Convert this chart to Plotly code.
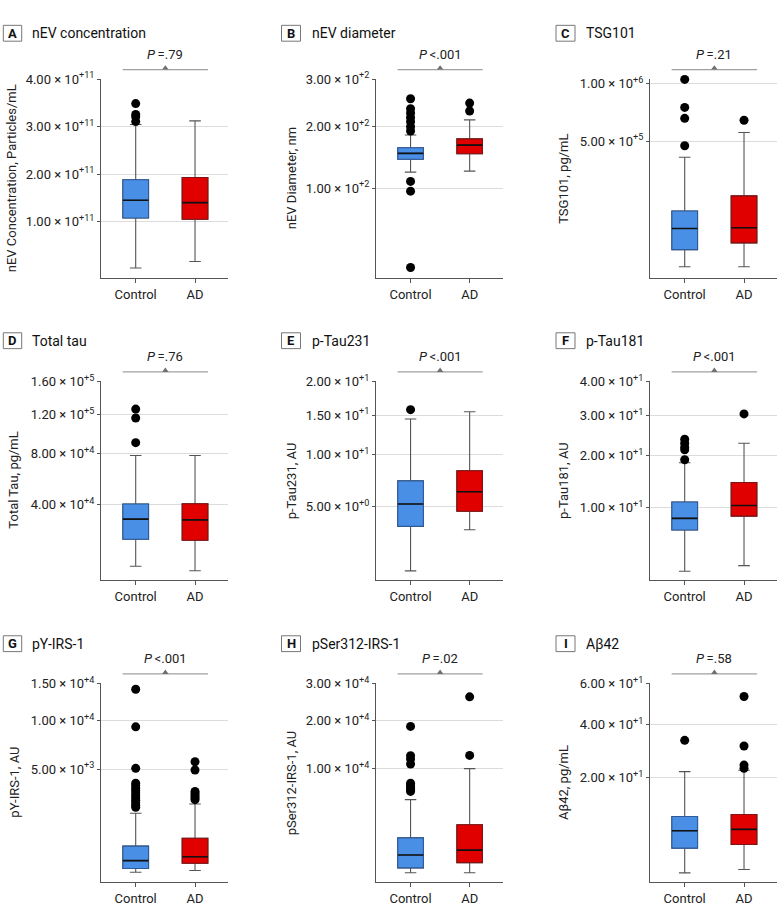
import math
import plotly.graph_objects as go

# ---------------- data ----------------
LETTERS = ["A", "B", "C", "D", "E", "F", "G", "H", "I"]
TITLES = ["nEV concentration", "nEV diameter", "TSG101", "Total tau", "p-Tau231",
          "p-Tau181", "pY-IRS-1", "pSer312-IRS-1", "Aβ42"]
YTITLES = ["nEV Concentration, Particles/mL", "nEV Diameter, nm", "TSG101, pg/mL",
           "Total Tau, pg/mL", "p-Tau231, AU", "p-Tau181, AU", "pY-IRS-1, AU",
           "pSer312-IRS-1, AU", "Aβ42, pg/mL"]
PVALUES = ["=.79", "<.001", "=.21", "=.76", "<.001", "<.001", "<.001", "=.02", "=.58"]
GROUPS = ["Control", "AD"]
SCALES = ["linear", "sqrt", "sqrt", "sqrt", "sqrt", "sqrt", "sqrt", "sqrt", "sqrt"]
TICKS = [[1e11, 2e11, 3e11, 4e11], [1e2, 2e2, 3e2], [5e5, 1e6],
         [4e4, 8e4, 1.2e5, 1.6e5], [5.0, 10.0, 15.0, 20.0], [10.0, 20.0, 30.0, 40.0],
         [5e3, 1e4, 1.5e4], [1e4, 2e4, 3e4], [20.0, 40.0, 60.0]]
YMIN = [-0.19e11, 15.7, 59.0, 5976.0, 0.85, 1.80, 6.8, 5.3, 0.69]

CTRL_LO = [0.021e11, 122.8, 4270, 9960, 1.18, 2.44, 73.2, 105, 1.32]
CTRL_Q1 = [1.076e11, 142.8, 23290, 20650, 3.54, 6.76, 115.6, 210, 4.05]
CTRL_MED = [1.451e11, 152.4, 68230, 31100, 5.21, 8.35, 241, 654, 6.87]
CTRL_Q3 = [1.882e11, 161.8, 122500, 40400, 7.27, 10.91, 590, 1627, 9.71]
CTRL_HI = [3.05e11, 184.4, 390400, 78300, 14.48, 18.39, 1955, 5373, 21.89]

AD_LO = [0.16e11, 124.3, 4270, 8520, 3.32, 2.90, 91, 105, 1.60]
AD_Q1 = [1.05e11, 151.8, 35010, 20200, 4.64, 8.69, 194, 362, 4.57]
AD_MED = [1.40e11, 166.4, 69960, 30700, 6.26, 10.32, 321, 890, 7.11]
AD_Q3 = [1.93e11, 177.4, 182700, 40600, 8.29, 14.38, 846, 2673, 10.14]
AD_HI = [3.125e11, 213.2, 564800, 78300, 15.48, 22.83, 2479, 10000, 22.33]

CTRL_OUT = [
    [3.49e11, 3.26e11, 3.21e11, 3.11e11],
    [256.7, 235.6, 227.0, 217.9, 209.4, 199.9, 191.8, 109.4, 96.1, 21.8],
    [1046600, 774200, 678800, 468000],
    [126300, 116200, 90500],
    [15.77],
    [23.79, 22.83, 21.89, 21.27, 19.04],
    [14190, 9290, 5085, 3886, 3700, 3522, 3350, 3177, 3000, 2849, 2700, 2539, 2400, 2285],
    [18600, 12340, 11710, 10810, 7657, 7300, 7024, 6750, 6464],
    [33.3],
]
AD_OUT = [
    [],
    [247.4, 231.0],
    [662800],
    [],
    [],
    [30.42],
    [5669, 4944, 3290, 3150, 3000, 2870, 2744],
    [26210, 12410],
    [53.3, 31.08, 24.1, 22.98],
]

# ---------------- styling / layout ----------------
W, H = 780, 915
FONT = "Roboto, Arial, sans-serif"
FILLS = ["#4A8FE6", "#E00000"]
EDGES = ["#2E5A96", "#7E1414"]
WHISKER = "#555555"
COL_X = [(101, 228), (376, 502.5), (650, 777)]
ROW_Y = [(70.7, 271.7), (376, 576.7), (681, 881.7)]
TITLE_Y = [24.5, 335, 641]
LBOX_X = [(3.3, 21.7), (281.5, 300.5), (556, 575)]
TEXT_X = [30, 309.5, 583.5]
YT_X = [[11.7, 291.7, 563.3], [14.0, 291.7, 563.3], [15.0, 291.7, 563.3]]
XRANGE = [-0.585, 1.556]
BOXW = 0.433


def px(x):
    return x / W


def py(y):
    return 1 - y / H


def tf(v, scale):
    return math.sqrt(v) if scale == "sqrt" else v


def label(v):
    e = int(math.floor(math.log10(v) + 1e-9))
    m = v / 10 ** e
    return f"{m:.2f} × 10<sup>+{e}</sup>"


fig = go.Figure()
shapes, annots = [], []
layout = {}

for i in range(9):
    r, c = divmod(i, 3)
    n = i + 1
    xa = "x" if n == 1 else f"x{n}"
    ya = "y" if n == 1 else f"y{n}"
    sc = SCALES[i]

    groups = [
        (GROUPS[0], 0, CTRL_LO, CTRL_Q1, CTRL_MED, CTRL_Q3, CTRL_HI),
        (GROUPS[1], 1, AD_LO, AD_Q1, AD_MED, AD_Q3, AD_HI),
    ]
    for g, k, lo, q1, med, q3, hi in groups:
        common = dict(x=[g], width=BOXW, boxpoints=False, xaxis=xa, yaxis=ya,
                      showlegend=False, hoverinfo="skip")
        # whiskers (gray)
        fig.add_trace(go.Box(
            q1=[tf(q1[i], sc)], median=[tf(med[i], sc)], q3=[tf(q3[i], sc)],
            lowerfence=[tf(lo[i], sc)], upperfence=[tf(hi[i], sc)],
            fillcolor=FILLS[k], line=dict(color=WHISKER, width=1.1),
            whiskerwidth=0.45, **common))
        # box body with coloured edge
        fig.add_trace(go.Box(
            q1=[tf(q1[i], sc)], median=[tf(med[i], sc)], q3=[tf(q3[i], sc)],
            lowerfence=[tf(q1[i], sc)], upperfence=[tf(q3[i], sc)],
            fillcolor=FILLS[k], line=dict(color=EDGES[k], width=1.1),
            whiskerwidth=0, **common))
        # black median line
        fig.add_trace(go.Box(
            q1=[tf(med[i], sc)], median=[tf(med[i], sc)], q3=[tf(med[i], sc)],
            lowerfence=[tf(med[i], sc)], upperfence=[tf(med[i], sc)],
            fillcolor="rgba(0,0,0,0)", line=dict(color="#111111", width=1.6),
            whiskerwidth=0, **common))
    for g, outs in [(GROUPS[0], CTRL_OUT[i]), (GROUPS[1], AD_OUT[i])]:
        if outs:
            fig.add_trace(go.Scatter(
                x=[g] * len(outs), y=[tf(v, sc) for v in outs], mode="markers",
                marker=dict(color="black", size=9), xaxis=xa, yaxis=ya,
                showlegend=False, hoverinfo="skip", cliponaxis=False,
            ))

    x0, x1 = COL_X[c]
    y0, y1 = ROW_Y[r]
    bot = tf(YMIN[i], sc) if sc == "sqrt" else YMIN[i]
    all_vals = TICKS[i] + CTRL_OUT[i] + AD_OUT[i]
    top = tf(max(all_vals), sc)
    span = top - bot
    key_x = "xaxis" if n == 1 else f"xaxis{n}"
    key_y = "yaxis" if n == 1 else f"yaxis{n}"
    layout[key_x] = dict(
        domain=[px(x0), px(x1)], anchor=ya, type="category",
        categoryorder="array", categoryarray=GROUPS, range=XRANGE,
        showline=True, linecolor="#555", linewidth=1, showgrid=False,
        ticks="outside", ticklen=4, tickcolor="#555",
        tickfont=dict(family=FONT, size=13, color="#222"),
    )
    layout[key_y] = dict(
        domain=[py(y1), py(y0)], anchor=xa,
        range=[bot, top + span * 0.002],
        tickvals=[tf(v, sc) for v in TICKS[i]],
        ticktext=[label(v) for v in TICKS[i]],
        showline=True, linecolor="#555", linewidth=1,
        showgrid=True, gridcolor="#dcdcdc", gridwidth=1, zeroline=False,
        ticks="outside", ticklen=3, tickcolor="#555",
        tickfont=dict(family=FONT, size=13, color="#222"),
    )

    # P-value bracket
    hpx = y1 - y0
    dom = ya + " domain"
    by = 1 + 9.5 / hpx
    shapes.append(dict(type="line", xref=xa, yref=dom, x0=-0.22, x1=1.22, y0=by, y1=by,
                       line=dict(color="#a0a0a0", width=1.2)))
    tw = 0.055
    th = 4.5 / hpx
    shapes.append(dict(type="path", xref=xa, yref=dom,
                       path=f"M {0.5 - tw} {by} L {0.5 + tw} {by} L 0.5 {by + th} Z",
                       fillcolor="#707070", line=dict(width=0)))
    annots.append(dict(xref=xa, yref=dom, x=0.5, y=1 + 25 / hpx, showarrow=False,
                       text=f"<i>P</i>\u2009{PVALUES[i]}", xanchor="center", yanchor="middle",
                       font=dict(family=FONT, size=13, color="#222")))

    # panel letter + title
    lx0, lx1 = LBOX_X[c]
    ty = TITLE_Y[r]
    shapes.append(dict(type="rect", xref="paper", yref="paper",
                       x0=px(lx0), x1=px(lx1), y0=py(ty + 8), y1=py(ty - 8),
                       line=dict(color="#777", width=1), fillcolor="white"))
    annots.append(dict(xref="paper", yref="paper", x=px((lx0 + lx1) / 2), y=py(ty),
                       text=f"<b>{LETTERS[i]}</b>", showarrow=False,
                       xanchor="center", yanchor="middle",
                       font=dict(family=FONT, size=13, color="#111")))
    annots.append(dict(xref="paper", yref="paper", x=px(TEXT_X[c]), y=py(ty),
                       text=TITLES[i], showarrow=False, xanchor="left", yanchor="middle",
                       font=dict(family=FONT, size=14, color="#111")))
    # y-axis title
    annots.append(dict(xref="paper", yref="paper", x=px(YT_X[r][c]), y=py((y0 + y1) / 2),
                       text=YTITLES[i], textangle=-90, showarrow=False,
                       xanchor="center", yanchor="middle",
                       font=dict(family=FONT, size=13, color="#222")))

fig.update_layout(
    width=W, height=H, margin=dict(l=0, r=0, t=0, b=0),
    paper_bgcolor="white", plot_bgcolor="white", boxmode="overlay",
    shapes=shapes, annotations=annots, showlegend=False, **layout,
)
fig.write_html(
    "out.html",
    config={"displayModeBar": False},
    post_script=(
        "document.body.style.margin='0';"
        "var d=document.getElementById('{plot_id}');"
        "d.style.position='absolute';d.style.left='0px';d.style.top='0px';"
    ),
)
